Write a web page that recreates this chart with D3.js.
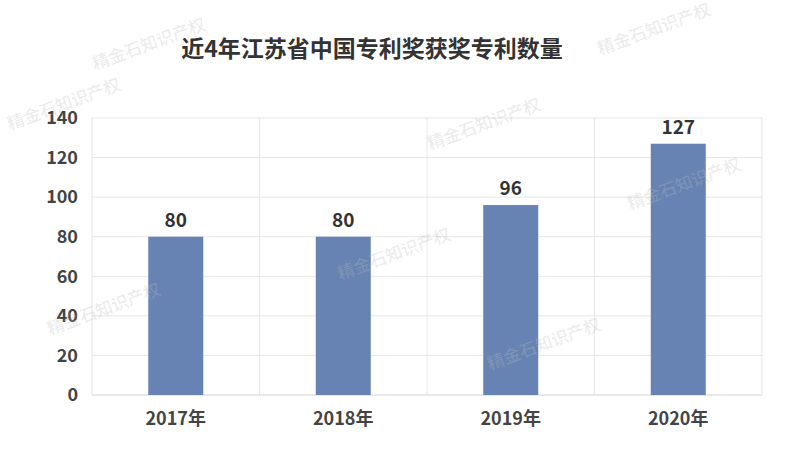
<!DOCTYPE html>
<html><head><meta charset="utf-8">
<script src="https://cdn.jsdelivr.net/npm/d3@7"></script>
<style>body{margin:0;background:#fff}text{font-family:"Noto Sans CJK SC","Noto Sans",sans-serif}</style>
</head><body><svg id="c" width="800" height="450"></svg>
<script>
const categories=["2017年","2018年","2019年","2020年"];
const values=[80,80,96,127];
const yTicks=[0,20,40,60,80,100,120,140];
const title="近4年江苏省中国专利奖获奖专利数量";
const wm="精金石知识产权";
const wmPos=[[10,130],[95,70],[430,150],[600,55],[630,210],[340,280],[50,335],[490,370]];

const svg=d3.select("#c");
const m={l:92,r:762,t:118,b:395};
const x=d3.scaleBand().domain(categories).range([m.l,m.r]);
const y=d3.scaleLinear().domain([0,140]).range([m.b,m.t]);

svg.append("g").selectAll("line").data(yTicks).join("line")
 .attr("x1",m.l).attr("x2",m.r).attr("y1",d=>y(d)).attr("y2",d=>y(d))
 .attr("stroke",d=>d===0?"#d0d0d0":"#e6e6e6");
svg.append("g").selectAll("line").data(categories.slice(1).concat(["_end"])).join("line")
 .attr("x1",d=>d==="_end"?m.r:x(d)).attr("x2",d=>d==="_end"?m.r:x(d))
 .attr("y1",m.t).attr("y2",m.b).attr("stroke","#e6e6e6");
svg.append("line").attr("x1",m.l).attr("x2",m.l).attr("y1",m.t).attr("y2",m.b).attr("stroke","#e6e6e6");

const bw=55;
svg.append("g").selectAll("rect").data(values).join("rect")
 .attr("x",(d,i)=>x(categories[i])+x.bandwidth()/2-bw/2).attr("width",bw)
 .attr("y",d=>y(d)).attr("height",d=>m.b-y(d)).attr("fill","#6783b3");
svg.append("g").selectAll("text").data(values).join("text")
 .attr("x",(d,i)=>x(categories[i])+x.bandwidth()/2).attr("y",d=>y(d)-10)
 .attr("text-anchor","middle").attr("font-size",19).attr("font-weight","bold").attr("fill","#333").text(d=>d);

svg.append("g").selectAll("text").data(yTicks).join("text")
 .attr("x",m.l-14).attr("y",d=>y(d)).attr("dy","0.35em").attr("text-anchor","end")
 .attr("font-size",18).attr("font-weight","bold").attr("fill","#444").text(d=>d);
svg.append("g").selectAll("text").data(categories).join("text")
 .attr("x",d=>x(d)+x.bandwidth()/2).attr("y",m.b+30).attr("text-anchor","middle")
 .attr("font-size",18).attr("font-weight","bold").attr("fill","#444").text(d=>d);

svg.append("text").attr("x",372).attr("y",57).attr("text-anchor","middle")
 .attr("font-size",23).attr("font-weight","bold").attr("fill","#333").text(title);

svg.append("g").selectAll("text").data(wmPos).join("text")
 .attr("transform",d=>`translate(${d[0]},${d[1]}) rotate(-20)`)
 .attr("font-size",17).attr("fill","#bbbbbb").attr("opacity",0.3).text(wm);
</script></body></html>
